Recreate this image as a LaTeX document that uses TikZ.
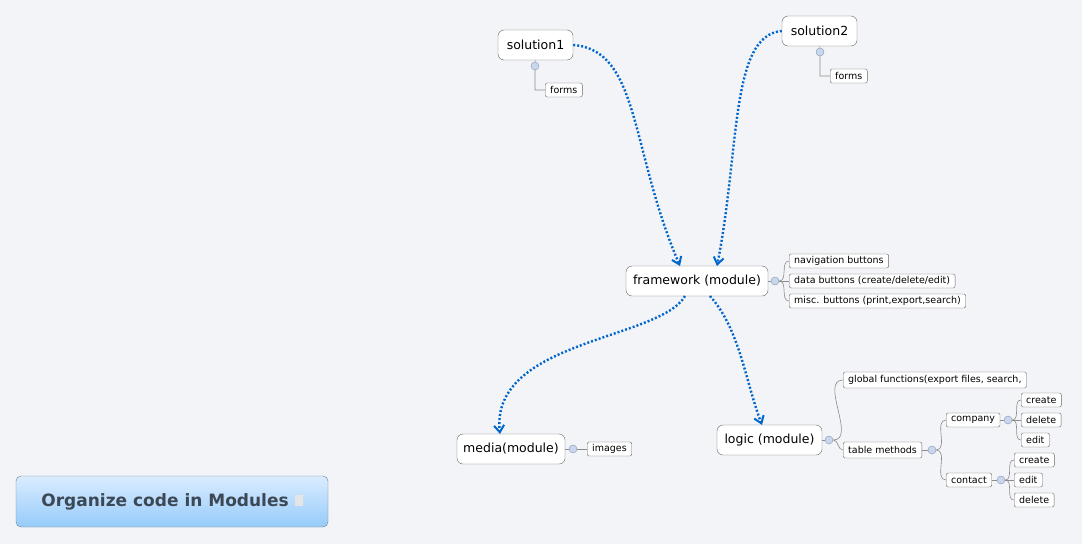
\documentclass[tikz,border=0pt]{standalone}
\usepackage{fontspec}
\setmainfont{DejaVu Sans}
\usetikzlibrary{arrows.meta}
\definecolor{bg}{RGB}{242,244,248}
\definecolor{lnk}{RGB}{0,102,204}
\definecolor{ttl}{RGB}{60,72,84}
\definecolor{colc}{RGB}{200,215,240}
\definecolor{tA}{RGB}{218,236,255}
\definecolor{tB}{RGB}{150,203,250}
\begin{document}
\begin{tikzpicture}[x=1pt,y=-1pt,
  big/.style={draw=black!60,fill=white,rounded corners=6pt,minimum height=30pt,font=\fontsize{12.5}{14}\selectfont,inner sep=0pt},
  leaf/.style={draw=black!60,fill=white,rounded corners=2pt,minimum height=14pt,font=\fontsize{9.5}{10}\selectfont,inner xsep=5pt,inner ysep=0pt,anchor=west},
  col/.style={circle,draw=colc!70!black,fill=colc,minimum size=8pt,inner sep=0pt},
  br/.style={draw=black!45,line width=0.6pt},
  rel/.style={draw=lnk,line width=2.4pt,dash pattern=on 2pt off 2pt,-{Straight Barb[length=7pt,width=10pt,line width=2pt]}}]
\fill[bg] (0,0) rectangle (1082,544);
\useasboundingbox (0,0) rectangle (1082,544);
% title
\node[draw=ttl!70,rounded corners=5pt,top color=tA,bottom color=tB,minimum width=312pt,minimum height=51pt,font=\fontsize{17}{20}\selectfont\bfseries,text=ttl] (title) at (172,501.5) {Organize code in Modules \textcolor{white!90!black}{\rule{8pt}{11pt}}};
% main nodes
\node[big,minimum width=75pt] (s1) at (535.5,45) {solution1};
\node[big,minimum width=75pt] (s2) at (819.5,31) {solution2};
\node[big,minimum width=142pt] (fw) at (697,281) {framework (module)};
\node[big,minimum width=108pt] (md) at (511,449) {media(module)};
\node[big,minimum width=105pt] (lg) at (769.5,440) {logic (module)};
% solution children
\node[col] (c1) at (535,66) {};
\node[leaf] (f1) at (545,90) {forms};
\draw[br] (s1) -- (c1) (c1.south) |- (f1.west);
\node[col] (c2) at (820,52) {};
\node[leaf] (f2) at (830,76) {forms};
\draw[br] (s2) -- (c2) (c2.south) |- (f2.west);
% framework children
\node[col] (cf) at (775,281) {};
\node[leaf] (n1) at (789,261) {navigation buttons};
\node[leaf] (n2) at (789,281) {data buttons (create/delete/edit)};
\node[leaf] (n3) at (789,301) {misc. buttons (print,export,search)};
\draw[br] (fw) -- (cf) (cf) -- (n2.west);
\draw[br] (cf.east) to[out=0,in=180] (n1.west) (cf.east) to[out=0,in=180] (n3.west);
% media
\node[col] (cm) at (573,449) {};
\node[leaf] (im) at (587,449) {images};
\draw[br] (md) -- (cm) -- (im);
% logic
\node[col] (cl) at (829,440) {};
\node[leaf,minimum height=16pt] (gf) at (843,380) {global functions(export files, search,};
\node[leaf,minimum height=16pt] (tm) at (843,450) {table methods};
\draw[br] (lg) -- (cl);
\draw[br] (cl.east) to[out=0,in=180] (gf.west) (cl.east) to[out=0,in=180] (tm.west);
\node[col] (ct) at (932,450) {};
\draw[br] (tm) -- (ct);
\node[leaf] (co) at (946,420) {company};
\node[leaf] (cn) at (946,480) {contact};
\draw[br] (ct.east) to[out=0,in=180] (co.west) (ct.east) to[out=0,in=180] (cn.west);
\node[col] (cc) at (1008,420) {};
\node[leaf] (a1) at (1021,400) {create};
\node[leaf] (a2) at (1021,420) {delete};
\node[leaf] (a3) at (1021,440) {edit};
\draw[br] (co) -- (cc) -- (a2);
\draw[br] (cc.east) to[out=0,in=180] (a1.west) (cc.east) to[out=0,in=180] (a3.west);
\node[col] (cd) at (1001,480) {};
\node[leaf] (b1) at (1014,460) {create};
\node[leaf] (b2) at (1014,480) {edit};
\node[leaf] (b3) at (1014,500) {delete};
\draw[br] (cn) -- (cd) -- (b2);
\draw[br] (cd.east) to[out=0,in=180] (b1.west) (cd.east) to[out=0,in=180] (b3.west);
% relationships
\draw[rel] (s1.east) .. controls (640,50) and (630,150) .. (680,266);
\draw[rel] (s2.west) .. controls (730,35) and (740,150) .. (717,266);
\draw[rel] (685,296) .. controls (660,340) and (490,340) .. (500,434);
\draw[rel] (710,296) .. controls (740,330) and (745,380) .. (762,425);
\end{tikzpicture}
\end{document}
